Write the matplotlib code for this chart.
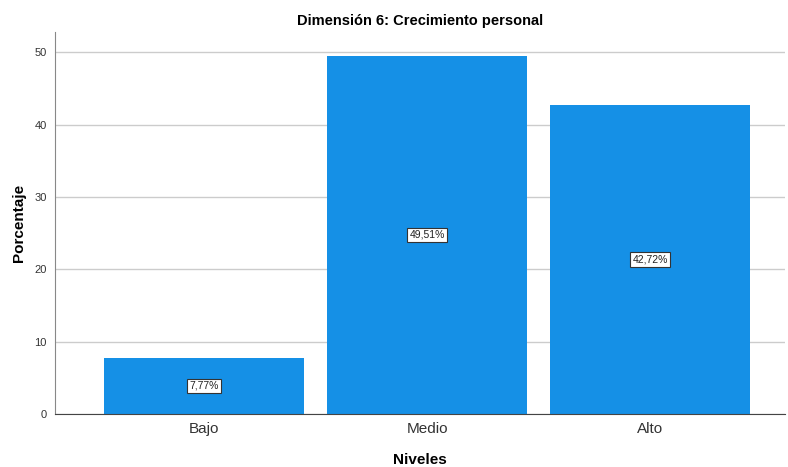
import matplotlib.pyplot as plt
import numpy as np

plt.rcParams['font.family'] = ['Liberation Sans', 'DejaVu Sans']

# Datos
niveles = ['Bajo', 'Medio', 'Alto']
porcentajes = [7.77, 49.51, 42.72]
etiquetas = ['7,77%', '49,51%', '42,72%']
yticks = [0, 10, 20, 30, 40, 50]

fig = plt.figure(figsize=(7.88, 4.67), dpi=100)
ax = fig.add_axes([55/788, 1 - 414/467, 730/788, (414 - 32)/467])

x = np.arange(len(niveles))
ax.bar(x, porcentajes, width=0.9, color='#1590e6', zorder=2)

# Etiquetas dentro de las barras
for xi, v, t in zip(x, porcentajes, etiquetas):
    ax.text(xi, v / 2, t, ha='center', va='center', fontsize=7.5, color='#222222',
            bbox=dict(boxstyle='square,pad=0.2', fc='white', ec='#333333', lw=0.8),
            zorder=3)

ax.set_xlim(-0.668, 2.605)
ax.set_ylim(0, 52.8)
ax.set_yticks(yticks)
ax.set_xticks(x)
ax.set_xticklabels(niveles, fontsize=11, color='#333333')
ax.tick_params(axis='y', labelsize=8, colors='#333333', length=0, pad=6)
ax.tick_params(axis='x', length=0, pad=6)
ax.yaxis.grid(True, color='#cccccc', lw=1, zorder=0)

for s in ['top', 'right']:
    ax.spines[s].set_visible(False)
ax.spines['left'].set_color('#888888')
ax.spines['bottom'].set_color('#444444')

ax.set_title('Dimensión 6: Crecimiento personal', fontsize=10.5, fontweight='bold', pad=5)
ax.set_xlabel('Niveles', fontsize=11, fontweight='bold', labelpad=12)
ax.set_ylabel('Porcentaje', fontsize=11, fontweight='bold', labelpad=6)

fig.savefig('out.png', dpi=100)
